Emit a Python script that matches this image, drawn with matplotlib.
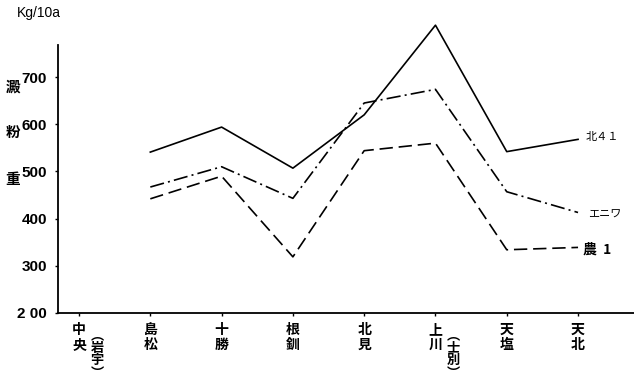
import matplotlib
matplotlib.use('Agg')
import matplotlib.pyplot as plt

# category labels (main part, and the part in brackets set beside it)
places = ['中央', '島松', '十勝', '根釧', '北見', '上川', '天塩', '天北']
notes = ['岩宇', '', '', '', '', '士別', '', '']

# starch weight, Kg/10a (no value for 中央)
kita41 = [None, 541, 594, 507, 620, 810, 542, 568]
eniwa = [None, 467, 510, 443, 645, 674, 457, 413]
nou1 = [None, 442, 490, 319, 544, 560, 334, 339]

yticks = [200, 300, 400, 500, 600, 700]
ytick_labels = ['2 00', '300', '400', '500', '600', '700']

jp = ['Noto Sans CJK JP', 'DejaVu Sans']
num = ['Liberation Sans', 'DejaVu Sans']

fig = plt.figure(figsize=(6.34, 3.82), dpi=100)
ax = fig.add_axes([58 / 634, 69 / 382, 576 / 634, 268 / 382])
ax.set_xlim(-0.295, 7.785)
ax.set_ylim(200, 768)

for s in ['top', 'right']:
    ax.spines[s].set_visible(False)
for s in ['left', 'bottom']:
    ax.spines[s].set_linewidth(1.3)

x = list(range(len(places)))
xs = x[1:]
l1, = ax.plot(xs, kita41[1:], color='black', lw=1.2, clip_on=False)
l2, = ax.plot(xs, eniwa[1:], color='black', lw=1.2, clip_on=False)
l2.set_dashes([8.5, 2.5, 1.2, 2.5])
l3, = ax.plot(xs, nou1[1:], color='black', lw=1.2, clip_on=False)
l3.set_dashes([8, 3.5])

ax.set_xticks(x)
ax.set_xticklabels([''] * len(x))
ax.set_yticks(yticks)
ax.set_yticklabels(ytick_labels, fontfamily=num, fontweight='bold', fontsize=11)
ax.tick_params(axis='y', direction='out', length=2, width=1, pad=6)
ax.tick_params(axis='x', direction='out', length=2, width=1)

# vertical category labels
for i, name in enumerate(places):
    ax.annotate('\n'.join(name), (i, 200), xycoords='data',
                xytext=(0, -10), textcoords='offset pixels',
                ha='center', va='top', fontsize=10, fontweight='bold',
                family=jp, linespacing=1.05)
    if notes[i]:
        ax.annotate('\n'.join('︵' + notes[i] + '︶'), (i, 200), xycoords='data',
                    xytext=(18, -15), textcoords='offset pixels',
                    ha='center', va='top', fontsize=9.5, fontweight='bold',
                    family=jp, linespacing=0.88)

# series names at the line ends
ax.annotate('北４１', (7, kita41[-1]), xytext=(8, 2), textcoords='offset pixels',
            ha='left', va='center', fontsize=8, family=jp)
ax.annotate('エニワ', (7, eniwa[-1]), xytext=(10, -2), textcoords='offset pixels',
            ha='left', va='center', fontsize=8, family=jp)
ax.annotate('農  1', (7, nou1[-1]), xytext=(5, -2), textcoords='offset pixels',
            ha='left', va='center', fontsize=10, fontweight='bold', family=jp)

# axis titles
fig.text(17 / 634, 1 - 13 / 382, 'Kg/10a', fontsize=10, family=num,
         ha='left', va='center')
for ch, yy in zip('澱粉重', [87, 132, 179]):
    fig.text(13 / 634, 1 - yy / 382, ch, fontsize=10.5, fontweight='bold',
             family=jp, ha='center', va='center')

fig.savefig('out.png', dpi=100)
